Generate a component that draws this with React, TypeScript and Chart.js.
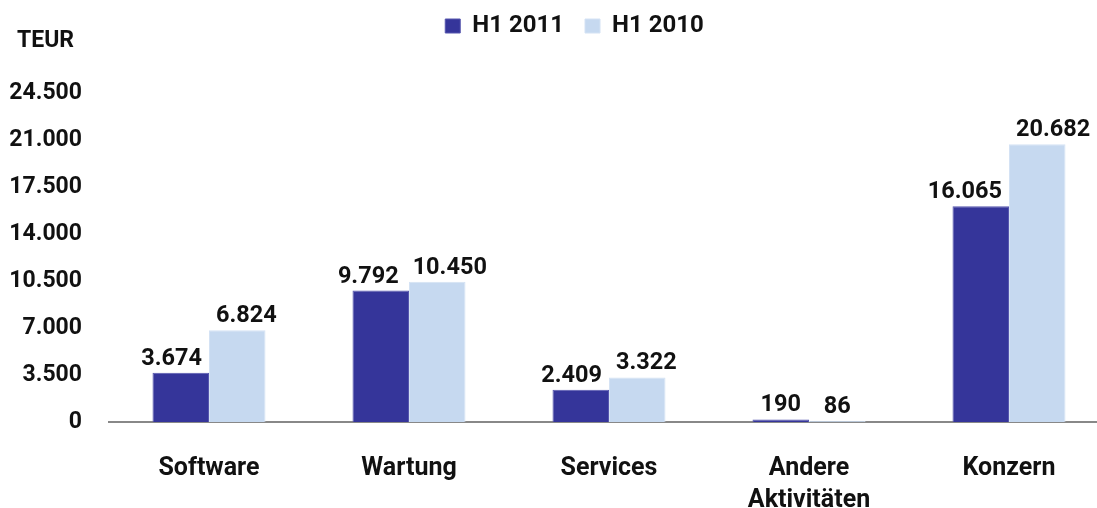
import React, { useEffect, useRef } from "react";
import { Chart, registerables } from "chart.js";

Chart.register(...registerables);

const categories: (string | string[])[] = ["Software", "Wartung", "Services", ["Andere", "Aktivitäten"], "Konzern"];
const seriesNames = ["H1 2011", "H1 2010"];
const h1_2011 = [3674, 9792, 2409, 190, 16065];
const h1_2010 = [6824, 10450, 3322, 86, 20682];
const yMin = 0;
const yMax = 24500;
const yStep = 3500;
const unitLabel = "TEUR";

const FONT = "Roboto, 'Liberation Sans', sans-serif";
const LABEL_GAP = 14;

const fmt = (v: number) => String(Math.round(v)).replace(/\B(?=(\d{3})+(?!\d))/g, ".");

const valueLabels = {
  id: "valueLabels",
  afterDatasetsDraw(chart: any) {
    const ctx = chart.ctx;
    ctx.save();
    ctx.font = `bold 23.5px ${FONT}`;
    ctx.fillStyle = "#111";
    ctx.textAlign = "center";
    ctx.textBaseline = "alphabetic";
    const m0 = chart.getDatasetMeta(0);
    const m1 = chart.getDatasetMeta(1);
    const d0 = chart.data.datasets[0].data;
    const d1 = chart.data.datasets[1].data;
    m0.data.forEach((el0: any, j: number) => {
      const el1 = m1.data[j];
      const t0 = fmt(d0[j]);
      const t1 = fmt(d1[j]);
      const w0 = ctx.measureText(t0).width;
      const w1 = ctx.measureText(t1).width;
      let x0 = el0.x;
      let x1 = el1.x;
      const overlap = x0 + w0 / 2 + LABEL_GAP - (x1 - w1 / 2);
      if (overlap > 0) {
        x0 -= overlap / 2;
        x1 += overlap / 2;
      }
      ctx.fillText(t0, x0, el0.y - 8);
      ctx.fillText(t1, x1, el1.y - 8);
    });
    ctx.restore();
  },
};

const unitTitle = {
  id: "unitTitle",
  afterDraw(chart: any) {
    const ctx = chart.ctx;
    ctx.save();
    ctx.font = `bold 23px ${FONT}`;
    ctx.fillStyle = "#111";
    ctx.textAlign = "left";
    ctx.textBaseline = "middle";
    ctx.fillText(unitLabel, 17, 41);
    ctx.restore();
  },
};

const legendShift = {
  id: "legendShift",
  afterLayout(chart: any) {
    const lg = chart.legend;
    if (lg) {
      lg.left += 15;
      lg.right += 15;
      lg.top -= 45;
      lg.bottom -= 45;
    }
  },
};

export default function App() {
  const ref = useRef<HTMLCanvasElement | null>(null);
  useEffect(() => {
    if (!ref.current) return;
    const chart = new Chart(ref.current, {
      type: "bar",
      data: {
        labels: categories as any,
        datasets: [
          {
            label: seriesNames[0],
            data: h1_2011,
            backgroundColor: "#35359A",
            borderColor: "#5656AE",
            borderWidth: 1,
          },
          {
            label: seriesNames[1],
            data: h1_2010,
            backgroundColor: "#C6D9F0",
            borderColor: "#D4E2F4",
            borderWidth: 1,
          },
        ],
      },
      plugins: [valueLabels, unitTitle, legendShift],
      options: {
        animation: false,
        responsive: false,
        maintainAspectRatio: false,
        layout: { padding: { left: 10, right: 0, top: 38, bottom: 0 } },
        datasets: { bar: { categoryPercentage: 0.565, barPercentage: 1 } },
        plugins: {
          legend: {
            position: "top",
            labels: {
              font: { family: FONT, size: 24, weight: "bold" },
              color: "#111",
              boxWidth: 15,
              boxHeight: 14,
              padding: 21,
            },
          },
          title: { display: false },
          tooltip: { enabled: false },
        },
        scales: {
          x: {
            grid: { display: false, drawTicks: false },
            border: { display: true, color: "#888888", width: 2 },
            afterFit: (scale: any) => {
              scale.height = 86;
            },
            ticks: {
              font: { family: FONT, size: 25, weight: "bold", lineHeight: 1.3 },
              color: "#111",
              padding: 30,
              maxRotation: 0,
              autoSkip: false,
            },
          },
          y: {
            min: yMin,
            max: yMax,
            grid: { display: false, drawTicks: false },
            border: { display: false },
            afterFit: (scale: any) => {
              scale.width = 99;
            },
            ticks: {
              stepSize: yStep,
              font: { family: FONT, size: 23, weight: "bold" },
              color: "#111",
              padding: 27,
              callback: (v: any) => fmt(Number(v)),
            },
          },
        },
      },
    });
    return () => chart.destroy();
  }, []);
  return (
    <div style={{ position: "fixed", left: 0, top: 0, width: 1097, height: 508, overflow: "hidden", background: "#fff" }}>
      <canvas ref={ref} width={1109} height={508} style={{ display: "block" }} />
    </div>
  );
}
